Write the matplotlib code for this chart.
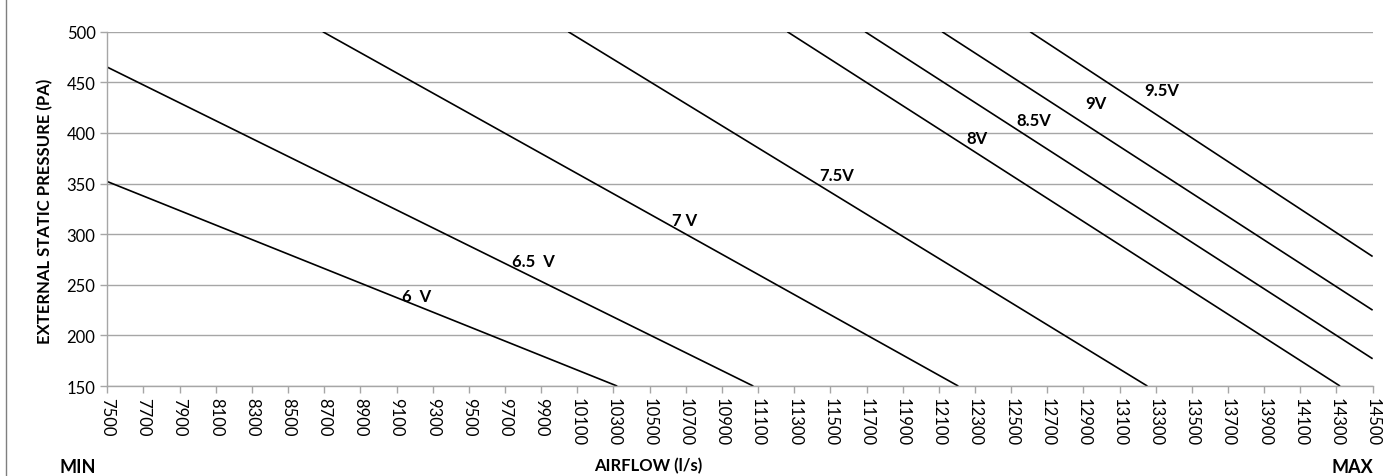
import matplotlib
matplotlib.use("Agg")
import matplotlib.pyplot as plt
from matplotlib.lines import Line2D

plt.rcParams["font.family"] = ["Lato", "DejaVu Sans"]

# fan curves, one straight segment per control voltage
volt_labels = ["6  V", "6.5  V", "7 V", "7.5V", "8V", "8.5V", "9V", "9.5V"]
airflow_start = [7500, 7500, 8692, 10050, 11262, 11692, 12118, 12605]
pressure_start = [352, 465, 500, 500, 500, 500, 500, 500]
airflow_end = [10321, 11074, 12208, 13254, 14320, 14500, 14500, 14500]
pressure_end = [150, 150, 150, 150, 150, 177, 225, 278]

# where the voltage tags sit (data coords)
label_x = [9212, 9857, 10696, 11535, 12309, 12626, 12969, 13333]
label_y = [239, 274, 314, 358, 395, 413, 430, 442]

x_ticks = list(range(7500, 14501, 200))
y_ticks = list(range(150, 501, 50))

GRID = "#a6a6a6"

fig = plt.figure(figsize=(13.83, 4.77), dpi=100)
ax = fig.add_axes([0.0776, 0.1885, 0.9149, 0.7429])

for xs, ys, xe, ye in zip(airflow_start, pressure_start, airflow_end, pressure_end):
    ax.plot([xs, xe], [ys, ye], color="black", lw=1.2, solid_capstyle="butt")

for txt, lx, ly in zip(volt_labels, label_x, label_y):
    ax.text(lx, ly, txt, ha="center", va="center", fontsize=12, fontweight="bold")

ax.set_xlim(7500, 14500)
ax.set_ylim(150, 500)
ax.set_xticks(x_ticks)
ax.set_yticks(y_ticks)
ax.set_xticklabels([str(v) for v in x_ticks], rotation=-90, fontsize=12)
ax.set_yticklabels([str(v) for v in y_ticks], fontsize=12)
ax.tick_params(axis="both", colors=GRID, labelcolor="black", length=5, width=1)
ax.tick_params(axis="x", pad=3)

ax.grid(axis="y", color=GRID, lw=1)
ax.set_axisbelow(True)
for side in ["top", "right"]:
    ax.spines[side].set_visible(False)
for side in ["left", "bottom"]:
    ax.spines[side].set_color(GRID)
    ax.spines[side].set_linewidth(1)

fig.text(0.0325, 0.5577, "EXTERNAL STATIC PRESSURE (PA)", rotation=90,
         ha="center", va="center", fontsize=12, fontweight="bold")
fig.text(0.4686, 0.023, "AIRFLOW (l/s)", ha="center", va="center",
         fontsize=12, fontweight="bold")
fig.text(0.0564, 0.019, "MIN", ha="center", va="center", fontsize=13, fontweight="bold")
fig.text(0.9776, 0.019, "MAX", ha="center", va="center", fontsize=13, fontweight="bold")

# thin frame line at left edge of the picture
fig.add_artist(Line2D([0.0043, 0.0043], [0, 1], transform=fig.transFigure,
                      color="#7f7f7f", lw=1))

fig.savefig("out.png", dpi=100)
